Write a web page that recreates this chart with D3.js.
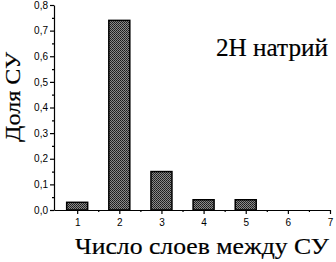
<!DOCTYPE html>
<html>
<head>
<meta charset="utf-8">
<script src="https://cdn.jsdelivr.net/npm/d3@7"></script>
<style>
    body { margin: 0; background: #fff; }
    .axis text { font-family: "Liberation Sans", Arial, sans-serif; font-size: 10px; fill: #000; }
    .axis path, .axis line { stroke: #000; stroke-width: 1.2; }
    .title { fill: #000; stroke: #000; stroke-width: 0.2; }
</style>
</head>
<body>
<div id="chart"></div>
<script>
const layers = [1, 2, 3, 4, 5, 6, 7];
const shares = [0.03, 0.74, 0.15, 0.04, 0.04, 0, 0];
const yTicks = [0, 0.1, 0.2, 0.3, 0.4, 0.5, 0.6, 0.7, 0.8];

const width = 336, height = 262;
const margin = {top: 5, right: 6, bottom: 52, left: 54};
const serif = '"Liberation Serif", "DejaVu Serif", serif';

const svg = d3.select('#chart').append('svg')
    .attr('width', width)
    .attr('height', height);

// dithered grey fill like the scanned original
const defs = svg.append('defs');
const pat = defs.append('pattern')
    .attr('id', 'dither')
    .attr('width', 2).attr('height', 2)
    .attr('patternUnits', 'userSpaceOnUse');
pat.append('rect').attr('width', 2).attr('height', 2).attr('fill', '#8a8a8a');
pat.append('rect').attr('width', 1).attr('height', 1).attr('fill', '#1a1a1a');
pat.append('rect').attr('x', 1).attr('y', 1).attr('width', 1).attr('height', 1).attr('fill', '#2a2a2a');

const x = d3.scaleLinear()
    .domain([0.45, 7])
    .range([margin.left, width - margin.right]);

const y = d3.scaleLinear()
    .domain([0, 0.8])
    .range([height - margin.bottom, margin.top]);

const fmt = d => d3.format('.1f')(d).replace('.', ',');

// minor ticks
svg.append('g')
    .attr('class', 'axis')
    .attr('transform', `translate(${margin.left},0)`)
    .call(d3.axisLeft(y).tickValues(d3.range(0.05, 0.8, 0.1)).tickSize(2).tickFormat(''))
    .select('.domain').remove();

svg.append('g')
    .attr('class', 'axis')
    .attr('transform', `translate(0,${height - margin.bottom})`)
    .call(d3.axisBottom(x).tickValues(d3.range(1.5, 7, 1)).tickSize(2).tickFormat(''))
    .select('.domain').remove();

svg.append('g')
    .attr('class', 'axis')
    .attr('transform', `translate(${margin.left},0)`)
    .call(d3.axisLeft(y).tickValues(yTicks).tickSize(4).tickSizeOuter(0).tickPadding(2).tickFormat(fmt));

svg.append('g')
    .attr('class', 'axis')
    .attr('transform', `translate(0,${height - margin.bottom})`)
    .call(d3.axisBottom(x).tickValues(layers).tickSize(4).tickSizeOuter(0).tickPadding(5).tickFormat(d3.format('d')));

const barW = 21;
svg.append('g')
    .selectAll('rect')
    .data(layers.map((l, i) => ({l, v: shares[i]})).filter(d => d.v > 0))
    .enter().append('rect')
    .attr('x', d => x(d.l) - barW / 2)
    .attr('y', d => y(d.v))
    .attr('width', barW)
    .attr('height', d => y(0) - y(d.v))
    .attr('fill', 'url(#dither)')
    .attr('stroke', '#000')
    .attr('stroke-width', 1.5);

svg.append('text')
    .attr('class', 'title')
    .attr('font-family', serif)
    .attr('x', 272)
    .attr('y', 56)
    .attr('text-anchor', 'middle')
    .attr('font-size', 25)
    .attr('textLength', 112)
    .attr('lengthAdjust', 'spacingAndGlyphs')
    .text('2H натрий');

svg.append('text')
    .attr('class', 'title')
    .attr('font-family', serif)
    .attr('x', 202)
    .attr('y', 254)
    .attr('text-anchor', 'middle')
    .attr('font-size', 24)
    .attr('textLength', 254)
    .attr('lengthAdjust', 'spacingAndGlyphs')
    .text('Число слоев между СУ');

svg.append('text')
    .attr('class', 'title')
    .attr('font-family', serif)
    .attr('transform', 'translate(20,97) rotate(-90)')
    .attr('text-anchor', 'middle')
    .attr('font-size', 22)
    .attr('textLength', 90)
    .attr('lengthAdjust', 'spacingAndGlyphs')
    .text('Доля СУ');
</script>
</body>
</html>
